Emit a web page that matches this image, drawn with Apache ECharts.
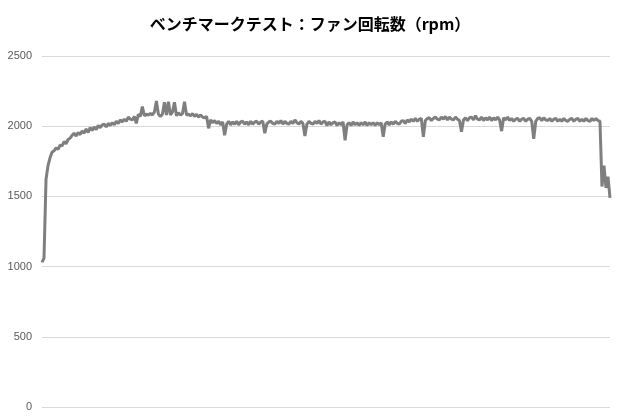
<!DOCTYPE html>
<html><head><meta charset="utf-8">
<script src="https://cdn.jsdelivr.net/npm/echarts@6/dist/echarts.min.js"></script>
<style>html,body{margin:0;padding:0;background:#fff}#c{width:620px;height:420px}</style>
</head><body><div id="c"></div>
<script>
var titleText = 'ベンチマークテスト：ファン回転数（rpm）';
var yTicks = [0, 500, 1000, 1500, 2000, 2500];
// fan speed (rpm), one sample per step
var rpmStart = [1030,1060,1620,1720,1775,1815,1825,1845,1835,1865,1860,1890,1875,1905,1915,1935,1950,1930,1955,1940,1965,1950,1980,1955,1990,1970,1995,1975,2005,1990,2010,2015,1995,2020,2005,2025,2010,2035,2020,2045,2030,2050,2035,2065,2050,2045,2070,2020,2085,2070,2140,2075,2085,2080,2090,2080,2100,2180,2085,2070,2085,2170,2080,2175,2080,2100,2170,2075,2095,2080,2090,2175,2080,2085,2075,2090,2070,2085,2065,2080,2065,2060,2070,1985];
var rpmMiddle = [2045,2025,2040,2020,2035,2010,2030,1935,2015,2035,2010,2030,2015,2035,2010,2030,2035,2015,2030,2010,2035,2015,2030,2035,2015,2030,2035,1950,2015,2030,2035,2020,2015,2035,2020,2040,2015,2035,2020,2015,2035,2020,2045,2025,2015,2035,2020,1930,2015,2035,2020,2015,2035,2020,2040,2015,2030,2035,2005,2030,2010,2025,2030,2005,2025,2010,2030,1900,2010,2025,2005,2030,2010,2025,2005,2025,2010,2030,2005,2025,2010,2025,2005,2025,2010,2025,1925,2015,2030,2010,2030,2015,2035,2020,2015,2035,2040,2020,2045,2030,2050,2035,2055,2035,2050,2055,1925,2040,2055,2060,2040,2055,2065,2050,2045,2065,2050,2070,2045,2065,2050,2045,2065,2050,2040,1960,2045,2060,2040,2060,2065,2045,2075,2050,2045,2065,2040,2060,2045,2065,2040,2060,2045,2065,2045,1965,2060,2045,2065,2040,2055,2035,2050,2055,2035,2050,2055,2035,2050,2055,2035,1910];
var rpmEnd = [2035,2055,2060,2040,2060,2045,2040,2055,2035,2050,2055,2035,2050,2035,2055,2040,2035,2050,2055,2035,2050,2055,2035,2050,2035,2055,2040,2035,2055,2040,2055,2040,2035,1570,1720,1560,1640,1490];
var rpm = rpmStart.concat(rpmMiddle, rpmEnd);
var samples = rpm.map(function(_, i){ return String(i + 1); });

var chart = echarts.init(document.getElementById('c'));
chart.setOption({
  animation: false,
  title: {
    text: titleText, left: 'center', top: 11,
    textStyle: {fontFamily: 'Noto Sans CJK JP', fontSize: 16, fontWeight: 'bold', color: '#000'}
  },
  grid: {left: 42, right: 10, top: 56, bottom: 13, containLabel: false},
  xAxis: {
    type: 'category', data: samples, boundaryGap: false,
    axisLine: {show: false}, axisTick: {show: false}, axisLabel: {show: false}, splitLine: {show: false}
  },
  yAxis: {
    type: 'value', min: yTicks[0], max: yTicks[yTicks.length - 1], interval: 500,
    axisLine: {show: false}, axisTick: {show: false},
    axisLabel: {color: '#595959', fontSize: 11, margin: 10, fontFamily: 'Liberation Sans',
      formatter: function(v){ return String(v); }},
    splitLine: {lineStyle: {color: '#d9d9d9', width: 1}}
  },
  series: [{
    type: 'line', data: rpm, symbol: 'none',
    lineStyle: {color: '#7f7f7f', width: 3}
  }]
});
</script></body></html>
